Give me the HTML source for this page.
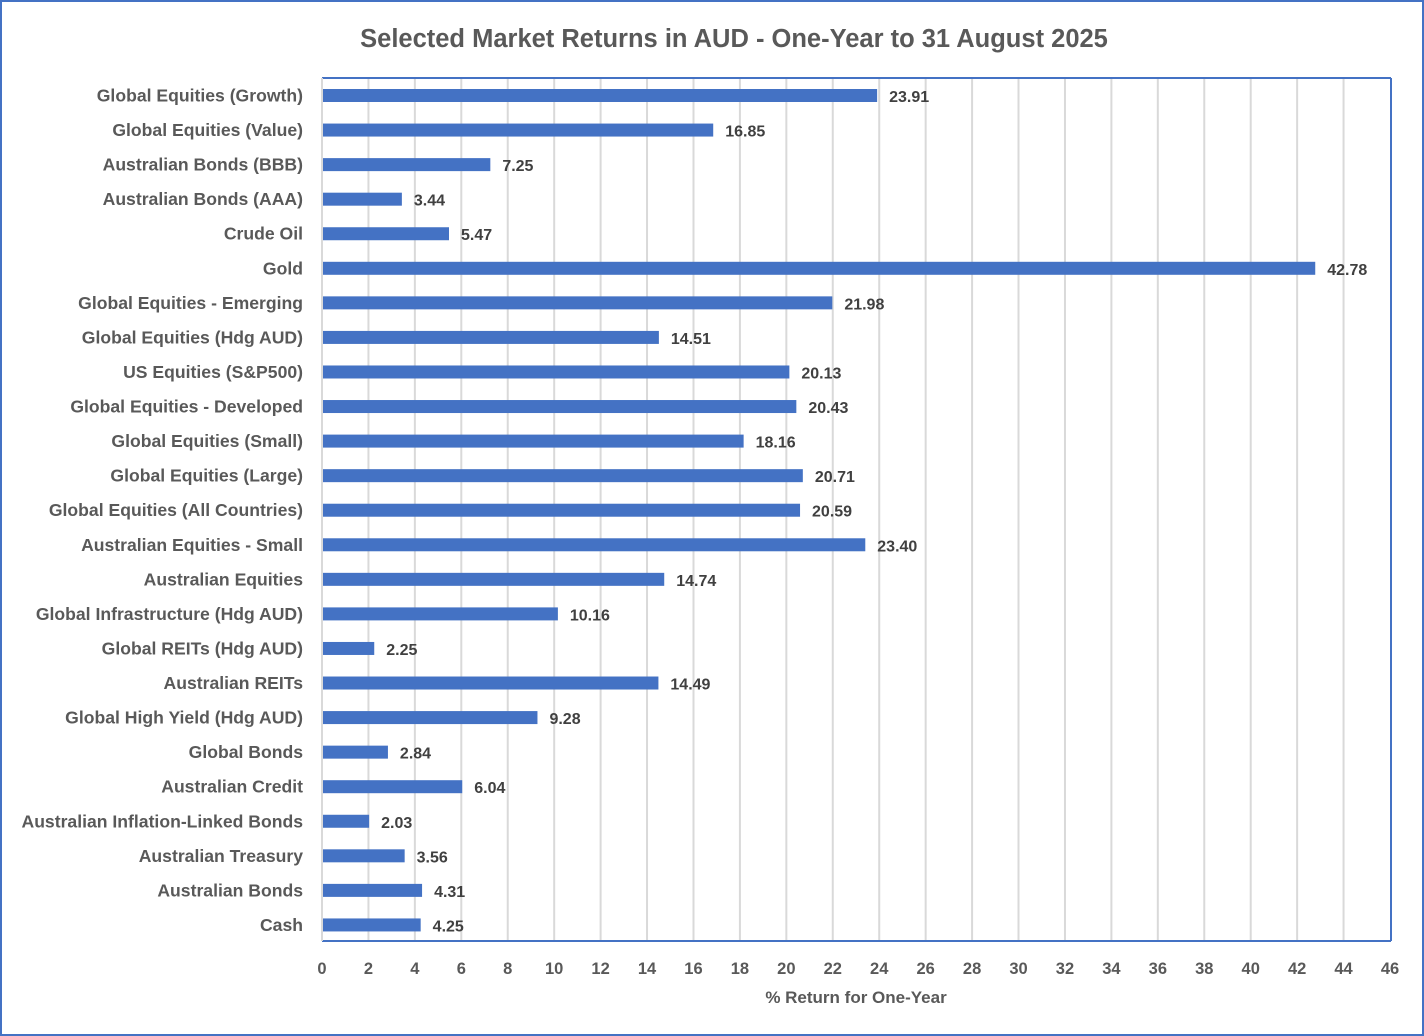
<!DOCTYPE html>
<html><head><meta charset="utf-8"><style>html,body{margin:0;padding:0;background:#fff}svg{display:block}text{font-family:"Liberation Sans",sans-serif;font-weight:bold;fill:#595959}</style></head>
<body>
<svg width="1424" height="1036" viewBox="0 0 1424 1036" xmlns="http://www.w3.org/2000/svg">
<rect x="1" y="1" width="1422" height="1034" fill="#fff" stroke="#4472c4" stroke-width="2"/>
<text x="734" y="47" font-size="25.5" text-anchor="middle">Selected Market Returns in AUD - One-Year to 31 August 2025</text>
<g id="grid" stroke="#d9d9d9" stroke-width="2"></g>
<g id="bars"></g>
<line x1="322" y1="78" x2="1391" y2="78" stroke="#4472c4" stroke-width="2"/>
<line x1="1391" y1="78" x2="1391" y2="941" stroke="#4472c4" stroke-width="2"/>
<line x1="322" y1="941" x2="1391" y2="941" stroke="#4472c4" stroke-width="2"/>
<line x1="322" y1="78" x2="322" y2="941" stroke="#d9d9d9" stroke-width="2"/>
<text x="856" y="1003" font-size="17" text-anchor="middle">% Return for One-Year</text>
<script>
var d=[["Global Equities (Growth)",23.91],["Global Equities (Value)",16.85],["Australian Bonds (BBB)",7.25],["Australian Bonds (AAA)",3.44],["Crude Oil",5.47],["Gold",42.78],["Global Equities - Emerging",21.98],["Global Equities (Hdg AUD)",14.51],["US Equities (S&P500)",20.13],["Global Equities - Developed",20.43],["Global Equities (Small)",18.16],["Global Equities (Large)",20.71],["Global Equities (All Countries)",20.59],["Australian Equities - Small",23.40],["Australian Equities",14.74],["Global Infrastructure (Hdg AUD)",10.16],["Global REITs (Hdg AUD)",2.25],["Australian REITs",14.49],["Global High Yield (Hdg AUD)",9.28],["Global Bonds",2.84],["Australian Credit",6.04],["Australian Inflation-Linked Bonds",2.03],["Australian Treasury",3.56],["Australian Bonds",4.31],["Cash",4.25]];
var ns="http://www.w3.org/2000/svg",k=1068/46,x0=322;
function el(t,a,p,txt){var e=document.createElementNS(ns,t);for(var i in a)e.setAttribute(i,a[i]);if(txt!=null)e.textContent=txt;p.appendChild(e);return e;}
var g=document.getElementById("grid"),b=document.getElementById("bars"),s=document.querySelector("svg");
for(var i=0;i<=23;i++){var x=x0+i*2*k;if(i>0&&i<23)el("line",{x1:x,y1:78,x2:x,y2:941},g);
el("text",{x:x,y:974,"font-size":16.5,"text-anchor":"middle"},s,String(i*2));}
d.forEach(function(r,j){var cy=95.5+j*34.56;var w=r[1]*k;
el("rect",{x:x0,y:cy-6.5,width:w,height:13,fill:"#4472c4"},b);
el("text",{x:303,y:cy+6,"font-size":17.6,"text-anchor":"end"},s,r[0]);
el("text",{x:x0+w+12,y:cy+6.5,"font-size":16,style:"fill:#404040"},s,r[1].toFixed(2));});
</script>
</svg>
</body></html>
